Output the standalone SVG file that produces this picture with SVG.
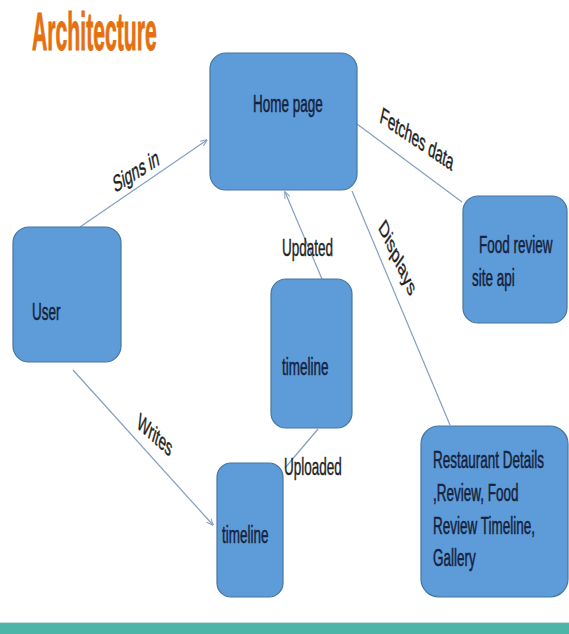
<svg xmlns="http://www.w3.org/2000/svg" width="569" height="634" viewBox="0 0 569 634">
  <style>
    .box { fill: #5d9cd8; stroke: #46759f; stroke-width: 1.2; }
    .txt { font-family: "Liberation Sans", Arial, sans-serif; font-size: 13.5px; fill: #16213d; stroke: #16213d; stroke-width: 0.3; }
    .lbl { font-family: "Liberation Sans", Arial, sans-serif; font-size: 13.5px; fill: #1e1e1e; stroke: #1e1e1e; stroke-width: 0.25; }
    .title { font-family: "Liberation Sans", Arial, sans-serif; font-weight: bold; font-size: 21.2px; fill: #e5700f; stroke: #e5700f; stroke-width: 0.4; }
    .conn { stroke: #849fc2; stroke-width: 1.2; fill: none; }
  </style>
  <defs>
    <marker id="arrow" viewBox="0 0 10 10" refX="9" refY="5" markerWidth="7" markerHeight="7" orient="auto" markerUnits="userSpaceOnUse">
      <path d="M0,1 L10,5 L0,9" fill="none" stroke="#849fc2" stroke-width="1.4"/>
    </marker>
  </defs>

  <rect width="569" height="634" fill="#ffffff"/>

  <!-- heading -->
  <text class="title" transform="translate(32,50) scale(1,2.55)">Architecture</text>

  <!-- connectors -->
  <g id="connectors">
    <line class="conn" x1="80" y1="227" x2="207" y2="140" marker-end="url(#arrow)"/>
    <line class="conn" x1="357" y1="124" x2="462" y2="202"/>
    <line class="conn" x1="352" y1="191" x2="450" y2="425"/>
    <line class="conn" x1="322" y1="279" x2="285" y2="192" marker-end="url(#arrow)"/>
    <line class="conn" x1="318" y1="429" x2="285" y2="468"/>
    <line class="conn" x1="73" y1="370" x2="213" y2="525" marker-end="url(#arrow)"/>
  </g>

  <!-- nodes -->
  <g id="home-page">
    <rect class="box" x="210" y="53" width="147" height="137" rx="16"/>
    <text class="txt" transform="translate(253,112) scale(1,1.75)">Home page</text>
  </g>
  <g id="user">
    <rect class="box" x="13" y="227" width="108" height="135" rx="16"/>
    <text class="txt" transform="translate(32,320) scale(1,1.75)">User</text>
  </g>
  <g id="food-review-api">
    <rect class="box" x="463" y="196" width="104" height="127" rx="15"/>
    <text class="txt" transform="translate(479,253) scale(1,1.75)">Food review</text>
    <text class="txt" transform="translate(472,286) scale(1,1.75)">site api</text>
  </g>
  <g id="timeline-main">
    <rect class="box" x="271" y="279" width="81" height="149" rx="15"/>
    <text class="txt" transform="translate(282,375) scale(1,1.75)">timeline</text>
  </g>
  <g id="timeline-user">
    <rect class="box" x="217" y="463" width="66" height="134" rx="14"/>
    <text class="txt" transform="translate(222,543) scale(1,1.75)">timeline</text>
  </g>
  <g id="restaurant-details">
    <rect class="box" x="421" y="426" width="147" height="171" rx="18"/>
    <text class="txt" transform="translate(433,468) scale(1,1.75)">Restaurant Details</text>
    <text class="txt" transform="translate(433,501) scale(1,1.75)">,Review, Food</text>
    <text class="txt" transform="translate(433,534) scale(1,1.75)">Review Timeline,</text>
    <text class="txt" transform="translate(433,566) scale(1,1.75)">Gallery</text>
  </g>

  <!-- connector labels -->
  <g id="labels">
    <text class="lbl" transform="translate(115,193) scale(1,1.75) rotate(-20)">Signs in</text>
    <text class="lbl" transform="translate(379,122) scale(1,1.75) rotate(21)">Fetches data</text>
    <text class="lbl" transform="translate(378,228) scale(1,1.75) rotate(51)">Displays</text>
    <text class="lbl" transform="translate(282,256) scale(1,1.75)">Updated</text>
    <text class="lbl" transform="translate(284,475) scale(1,1.75)">Uploaded</text>
    <text class="lbl" transform="translate(136,427) scale(1,1.75) rotate(27)">Writes</text>
  </g>

  <!-- footer band -->
  <rect x="0" y="623" width="569" height="11" fill="#4db5a7"/>
  <line x1="0" y1="622.5" x2="569" y2="622.5" stroke="#bfe2dc" stroke-width="1"/>
</svg>
